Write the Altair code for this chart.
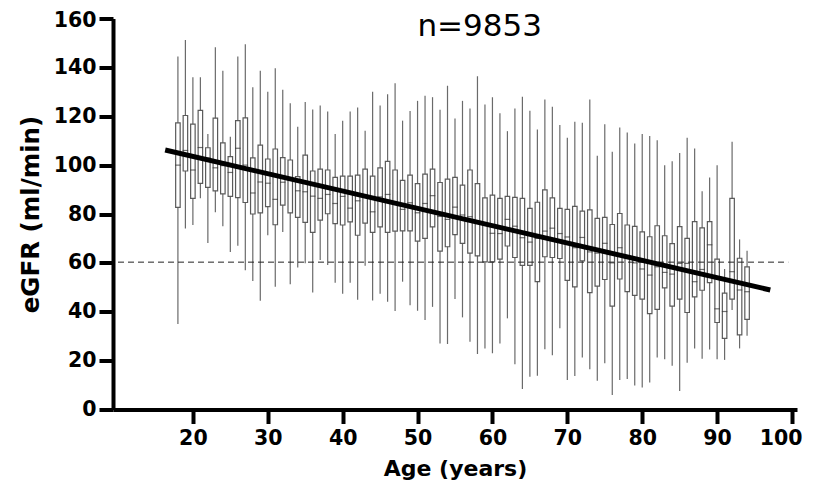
import altair as alt
import pandas as pd

ages = list(range(18, 95))
lows = [35.0, 74.1, 75.5, 86.4, 68.1, 80.7, 75.0, 64.5, 67.0, 57.0,
        52.6, 44.5, 71.3, 50.2, 72.6, 51.3, 58.1, 59.8, 47.9, 61.2,
        59.1, 51.9, 47.4, 51.9, 44.9, 58.8, 44.6, 47.4, 44.1, 40.3,
        52.3, 42.7, 40.4, 36.6, 42.0, 27.0, 26.8, 45.2, 37.7, 27.7,
        22.7, 25.0, 23.0, 27.0, 37.3, 18.5, 8.4, 13.4, 13.8, 24.7,
        22.2, 33.2, 12.1, 13.7, 21.3, 16.5, 11.8, 18.9, 5.9, 12.1,
        12.5, 9.8, 9.0, 11.0, 21.3, 20.6, 17.9, 7.6, 19.1, 25.0,
        20.8, 24.6, 20.6, 20.3, 40.7, 25.0, 30.2]
q1s = [82.7, 97.6, 86.4, 92.5, 90.9, 89.5, 88.2, 87.2, 86.7, 84.7,
       80.0, 80.5, 83.0, 75.6, 83.6, 80.5, 78.6, 76.6, 72.5, 77.5,
       80.1, 76.1, 75.5, 76.8, 71.3, 76.3, 72.5, 74.7, 72.5, 73.0,
       73.1, 73.1, 68.9, 70.0, 74.7, 64.8, 66.6, 71.6, 68.0, 64.0,
       62.9, 60.4, 60.4, 61.5, 66.9, 62.2, 59.0, 59.0, 52.3, 62.5,
       62.2, 61.8, 52.8, 50.2, 60.8, 47.8, 50.5, 53.2, 42.3, 53.4,
       48.2, 46.7, 45.2, 39.2, 41.0, 49.8, 42.3, 45.2, 39.7, 46.1,
       48.8, 51.9, 35.6, 29.1, 45.2, 30.5, 36.9]
medians = [100.0, 106.0, 98.0, 107.2, 102.9, 98.9, 99.8, 97.0, 106.9, 100.0,
           88.6, 93.1, 92.6, 86.0, 93.0, 94.0, 89.5, 89.1, 87.3, 86.4,
           88.0, 84.3, 87.2, 82.4, 85.4, 87.0, 80.9, 87.0, 88.0, 84.0,
           81.9, 84.6, 80.5, 84.3, 87.5, 79.0, 77.8, 82.8, 79.6, 78.9,
           76.8, 75.5, 72.1, 72.0, 77.8, 75.0, 70.3, 68.5, 70.0, 73.0,
           74.2, 72.0, 70.6, 66.2, 70.4, 64.5, 64.0, 68.0, 60.0, 66.2,
           62.0, 60.0, 57.5, 55.0, 58.4, 56.1, 55.4, 59.8, 59.8, 52.3,
           57.3, 67.4, 41.2, 40.1, 56.4, 48.9, 48.2]
q3s = [117.3, 120.3, 116.8, 122.4, 107.1, 119.2, 109.1, 103.5, 118.2, 119.3,
       103.0, 108.2, 102.5, 106.6, 103.1, 102.1, 95.3, 104.1, 97.6, 98.4,
       98.0, 95.0, 95.5, 95.5, 95.9, 98.4, 95.5, 98.9, 101.5, 98.0,
       93.8, 95.9, 92.4, 96.3, 98.4, 92.9, 94.3, 95.0, 91.8, 98.0,
       92.4, 86.6, 87.7, 86.4, 87.2, 86.8, 86.4, 82.3, 84.8, 89.9,
       86.6, 82.3, 81.9, 83.1, 81.2, 81.7, 78.2, 78.6, 75.7, 80.2,
       75.5, 74.9, 72.7, 70.7, 75.2, 71.1, 67.9, 74.8, 70.0, 76.9,
       74.3, 76.9, 61.5, 47.6, 86.4, 61.9, 58.4]
highs = [144.5, 151.2, 136.0, 136.0, 112.7, 148.2, 138.6, 111.6, 144.5, 149.5,
         131.9, 138.6, 130.0, 139.6, 130.8, 125.3, 115.7, 125.8, 122.8, 124.4,
         121.9, 112.7, 118.2, 121.9, 123.6, 114.1, 130.0, 124.4, 129.0, 133.5,
         118.2, 122.1, 126.3, 128.4, 127.8, 122.7, 132.5, 119.1, 126.3, 123.2,
         136.4, 124.8, 127.8, 121.2, 113.9, 123.2, 128.0, 122.2, 114.6, 126.9,
         123.9, 116.4, 111.2, 117.7, 117.3, 126.9, 103.8, 116.7, 105.5, 115.4,
         113.4, 108.8, 112.7, 111.9, 110.2, 100.0, 101.6, 105.0, 111.2, 106.8,
         89.3, 94.9, 100.0, 57.5, 109.6, 69.6, 65.0]

fit_age = [16.3, 97.1]
fit_egfr = [106.2, 48.9]
ref_age = [10.0, 99.5]
ref_egfr = [60.3, 60.3]
label_age = [58.3]
label_egfr = [156.5]
label_text = ["n=9853"]
x_ticks = [20, 30, 40, 50, 60, 70, 80, 90, 100]
y_ticks = [0, 20, 40, 60, 80, 100, 120, 140, 160]

df = pd.DataFrame({"age": ages, "low": lows, "q1": q1s, "median": medians,
                   "q3": q3s, "high": highs})
fit = pd.DataFrame({"age": fit_age, "egfr": fit_egfr})
ref = pd.DataFrame({"age": ref_age, "egfr": ref_egfr})
lab = pd.DataFrame({"age": label_age, "egfr": label_egfr, "t": label_text})

FONT = "DejaVu Sans"
xscale = alt.Scale(domain=[10, 100], nice=False, zero=False)
yscale = alt.Scale(domain=[0, 160], nice=False)
xaxis = alt.Axis(values=x_ticks, title="Age (years)", grid=False, labelFlush=False,
                 labelAlign=alt.ExprRef(expr="datum.value >= 100 ? 'right' : 'center'"),
                 labelOffset=alt.ExprRef(expr="datum.value >= 100 ? 10 : 0"))
yaxis = alt.Axis(values=y_ticks, title="eGFR (ml/min)", grid=False, labelFlush=False,
                 labelOffset=alt.ExprRef(expr="datum.value >= 160 ? 2 : 0"))


def X(field):
    return alt.X(f"{field}:Q", scale=xscale, axis=xaxis)


def Y(field):
    return alt.Y(f"{field}:Q", scale=yscale, axis=yaxis)


base = alt.Chart(df)
whisk = base.mark_rule(color="#6a6a6a", strokeWidth=1.2).encode(
    x=X("age"), y=Y("low"), y2="high")
box = base.mark_bar(size=4.5, fill="white", stroke="#5a5a5a", strokeWidth=1.2).encode(
    x=X("age"), y=Y("q1"), y2="q3")
med = base.mark_tick(orient="horizontal", size=5.5, thickness=1.2, color="#333333").encode(
    x=X("age"), y=Y("median"))
dash = alt.Chart(ref).mark_line(color="#222222", strokeWidth=1, strokeDash=[6, 4]).encode(
    x=X("age"), y=Y("egfr"))
line = alt.Chart(fit).mark_line(color="black", strokeWidth=5).encode(
    x=X("age"), y=Y("egfr"))
text = alt.Chart(lab).mark_text(font=FONT, fontSize=31, color="black", baseline="middle").encode(
    x=X("age"), y=Y("egfr"), text="t:N")

chart = alt.layer(whisk, box, med, dash, line, text).properties(
    width=684, height=391,
    autosize=alt.AutoSizeParams(type="none"),
    padding={"left": 105, "top": 10.5, "right": 10, "bottom": 70},
).configure_view(stroke=None).configure_axis(
    domainColor="black", domainWidth=4, tickColor="black", tickWidth=4, tickSize=14,
    labelFont=FONT, labelFontSize=20.5, labelFontWeight="bold", labelColor="black",
    titleFont=FONT, titleFontWeight="bold", titleColor="black",
).configure_axisX(labelPadding=5, titleFontSize=22, titlePadding=9).configure_axisY(
    labelPadding=3, titleFontSize=24.5, titlePadding=10)

chart.save("out.html", embed_options={"renderer": "svg", "actions": False})
